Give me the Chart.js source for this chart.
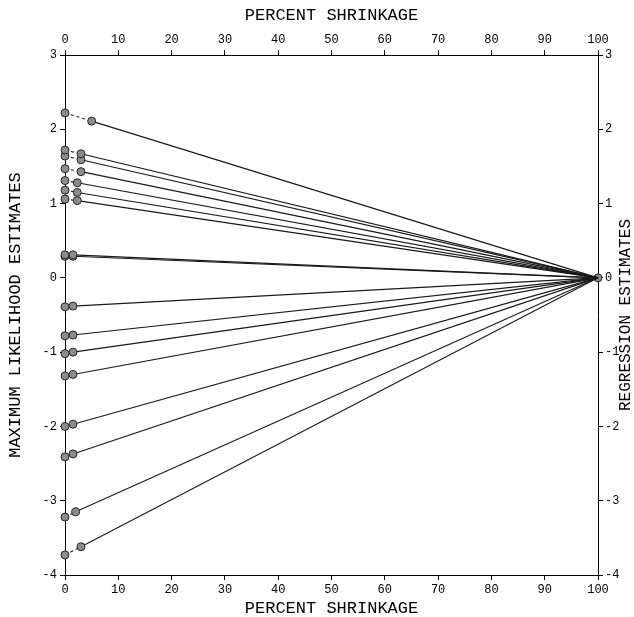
<!DOCTYPE html>
<html>
<head>
<meta charset="utf-8">
<script src="https://cdn.jsdelivr.net/npm/chart.js@4.4.1/dist/chart.umd.min.js"></script>
<style>
  html, body { margin: 0; padding: 0; background: #fff; }
  #wrap { width: 634px; height: 617px; }
</style>
</head>
<body>
<div id="wrap"><canvas id="shrinkChart" width="634" height="617"></canvas></div>
<script>
// ML estimate at 0 % shrinkage, first shrunk point, every line ends at 0 at 100 %
const mlEstimates     = [2.22, 1.72, 1.64, 1.47, 1.31, 1.18, 1.06, 0.31, 0.29, -0.39, -0.78, -1.02, -1.32, -2.00, -2.41, -3.22, -3.73];
const shrinkPercent   = [5, 3, 3, 3, 2.3, 2.3, 2.3, 1.5, 1.5, 1.5, 1.5, 1.5, 1.5, 1.5, 1.5, 2, 3];
const shrunkEstimates = [2.11, 1.67, 1.59, 1.43, 1.28, 1.15, 1.04, 0.31, 0.29, -0.38, -0.77, -1.00, -1.30, -1.97, -2.37, -3.15, -3.62];
const endShrink = 100;
const endEstimate = 0;

const shrinkageTicks = [0, 10, 20, 30, 40, 50, 60, 70, 80, 90, 100];
const estimateTicks = [-4, -3, -2, -1, 0, 1, 2, 3];

const lineColor = '#1a1a1a';
const dotFill = '#8c8c8c';
const dotEdge = '#262626';
const mono = "'Liberation Mono', 'DejaVu Sans Mono', monospace";
const tickFont = { family: mono, size: 12 };
const titleFont = { family: mono, size: 17, lineHeight: 1.0 };

const datasets = mlEstimates.map((ml, i) => ({
    data: [
        { x: 0, y: ml },
        { x: shrinkPercent[i], y: shrunkEstimates[i] },
        { x: endShrink, y: endEstimate }
    ],
    showLine: true,
    borderColor: lineColor,
    borderWidth: 1.1,
    pointRadius: ctx => ctx.dataIndex < 2 ? 4 : 0,
    pointBackgroundColor: dotFill,
    pointBorderColor: dotEdge,
    pointBorderWidth: 1,
    segment: { borderDash: ctx => ctx.p0DataIndex === 0 ? [3, 3] : undefined },
    clip: false
}));

// common end point at 100 %
datasets.push({
    data: [{ x: endShrink, y: endEstimate }],
    pointRadius: 4,
    pointBackgroundColor: dotFill,
    pointBorderColor: dotEdge,
    pointBorderWidth: 1,
    clip: false
});

function setTicks(list) {
    return scale => { scale.ticks = list.map(v => ({ value: v })); };
}

function axis(position, min, max, list, size, title) {
    const horiz = position === 'top' || position === 'bottom';
    return {
        type: 'linear',
        position: position,
        min: min, max: max,
        afterBuildTicks: setTicks(list),
        afterFit: s => { if (horiz) s.height = size; else s.width = size; },
        ticks: { font: tickFont, color: '#000', padding: position === 'right' ? 2 : 3, maxRotation: 0 },
        grid: { drawOnChartArea: false, drawTicks: true, tickLength: 5, color: '#000', tickWidth: 1 },
        border: { display: true, color: '#000', width: 1 },
        title: title || { display: false }
    };
}

const rightTitle = {
    id: 'rightTitle',
    afterDraw(chart) {
        const { ctx, chartArea } = chart;
        ctx.save();
        ctx.translate(626, (chartArea.top + chartArea.bottom) / 2);
        ctx.rotate(-Math.PI / 2);
        ctx.font = '16px ' + mono;
        ctx.fillStyle = '#000';
        ctx.textAlign = 'center';
        ctx.textBaseline = 'middle';
        ctx.fillText('REGRESSION ESTIMATES', 0, 0);
        ctx.restore();
    }
};

new Chart(document.getElementById('shrinkChart'), {
    type: 'scatter',
    data: { datasets: datasets },
    options: {
        responsive: false,
        animation: false,
        layout: { padding: 0 },
        plugins: { legend: { display: false }, tooltip: { enabled: false } },
        scales: {
            x: axis('bottom', 0, 100, shrinkageTicks, 42,
                { display: true, text: 'PERCENT SHRINKAGE', font: titleFont, color: '#000', padding: { top: 0, bottom: 0 } }),
            x2: axis('top', 0, 100, shrinkageTicks, 55,
                { display: true, text: 'PERCENT SHRINKAGE', font: titleFont, color: '#000', padding: { top: 7, bottom: 0 } }),
            y: axis('left', -4, 3, estimateTicks, 65,
                { display: true, text: 'MAXIMUM LIKELIHOOD ESTIMATES', font: titleFont, color: '#000', padding: { top: 7, bottom: 0 } }),
            y2: axis('right', -4, 3, estimateTicks, 36)
        }
    },
    plugins: [rightTitle]
});
</script>
</body>
</html>
